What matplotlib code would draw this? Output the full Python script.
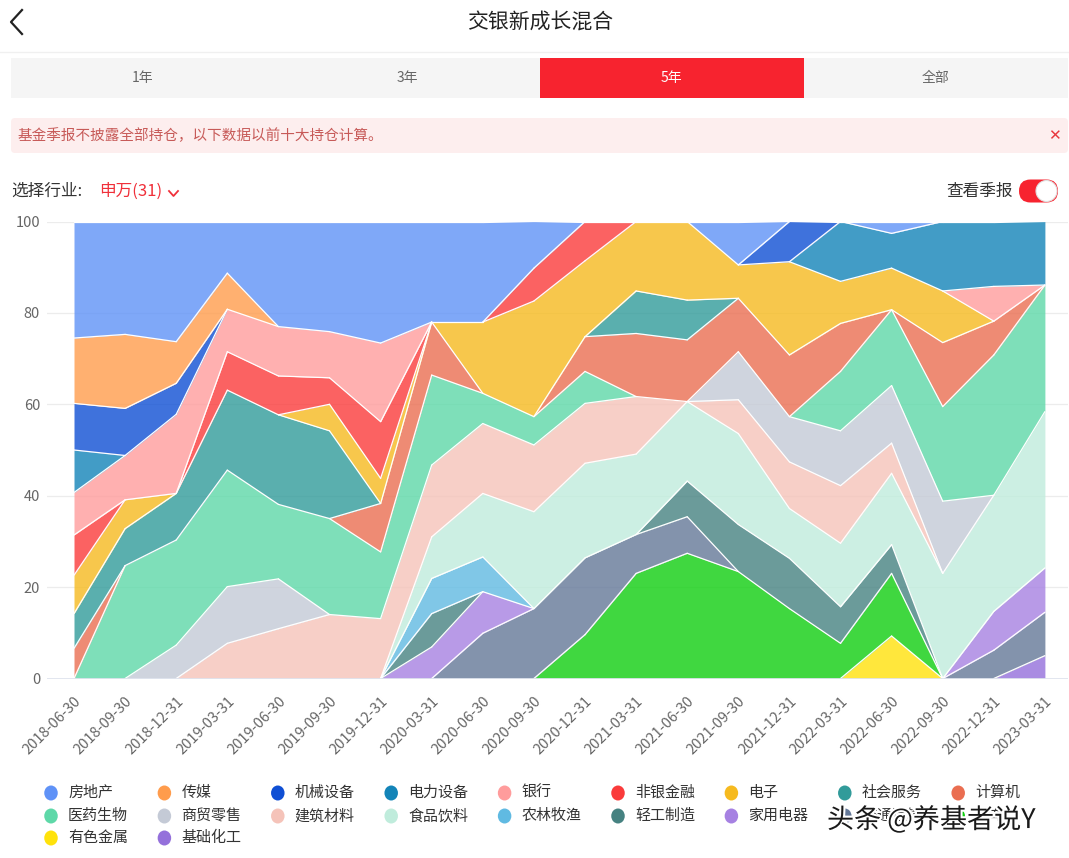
import matplotlib
matplotlib.use("Agg")
import matplotlib.pyplot as plt
from matplotlib.patches import FancyBboxPatch, Ellipse, Circle, Rectangle
from matplotlib.lines import Line2D
import matplotlib.patheffects as pe
import numpy as np

plt.rcParams['font.family'] = ['Noto Sans CJK SC', 'DejaVu Sans']

# ---------------- data ----------------
dates = ["2018-06-30", "2018-09-30", "2018-12-31", "2019-03-31", "2019-06-30",
         "2019-09-30", "2019-12-31", "2020-03-31", "2020-06-30", "2020-09-30",
         "2020-12-31", "2021-03-31", "2021-06-30", "2021-09-30", "2021-12-31",
         "2022-03-31", "2022-06-30", "2022-09-30", "2022-12-31", "2023-03-31"]

fangdichan = [25.5, 24.7, 26.3, 11.3, 23.0, 24.1, 26.6, 22.0, 22.0, 10.2, 0, 0, 0, 9.5, 0, 0, 2.6, 0, 0, 0]
chuanmei   = [14.3, 16.2, 9.1, 7.9, 0, 0, 0, 0, 0, 0, 0, 0, 0, 0, 0, 0, 0, 0, 0, 0]
jixie      = [10.2, 10.3, 6.8, 0, 0, 0, 0, 0, 0, 0, 0, 0, 0, 0, 8.8, 0, 0, 0, 0, 0]
dianli     = [9.3, 0, 0, 0, 0, 0, 0, 0, 0, 0, 0, 0, 0, 0, 0, 13.1, 7.6, 15.2, 14.2, 13.9]
yinhang    = [9.3, 9.7, 17.3, 9.3, 10.8, 10.1, 17.2, 0, 0, 0, 0, 0, 0, 0, 0, 0, 0, 0, 7.6, 0]
feiyin     = [8.8, 0, 0, 8.4, 8.5, 5.8, 12.4, 0, 0, 7.2, 8.6, 0, 0, 0, 0, 0, 0, 0, 0, 0]
dianzi     = [8.4, 6.3, 0, 0, 0, 5.8, 5.5, 0, 15.6, 25.3, 16.6, 15.2, 17.2, 7.3, 20.4, 9.2, 9.1, 11.3, 0, 0]
shehui     = [7.6, 8.1, 10.2, 17.5, 19.6, 19.2, 0, 0, 0, 0, 0, 9.3, 8.7, 0, 0, 0, 0, 0, 0, 0]
jisuanji   = [6.6, 0, 0, 0, 0, 0, 10.6, 11.6, 0, 0, 7.6, 13.8, 13.5, 11.7, 13.5, 10.5, 0, 14.0, 7.4, 0]
yiyao      = [0, 24.7, 23.0, 25.5, 16.3, 21.0, 14.6, 19.7, 6.6, 6.2, 7.0, 0, 0, 0, 0, 13.0, 16.6, 20.7, 30.7, 27.7]
shangmao   = [0, 0, 7.3, 12.4, 10.9, 0, 0, 0, 0, 0, 0, 0, 0, 10.5, 9.9, 12.0, 12.6, 15.8, 0, 0]
jiancai    = [0, 0, 0, 7.7, 10.9, 14.0, 13.1, 15.7, 15.3, 14.6, 13.1, 12.6, 0, 7.4, 10.2, 12.6, 6.6, 0, 0, 0]
shipin     = [0, 0, 0, 0, 0, 0, 0, 9.1, 13.9, 21.2, 20.7, 17.6, 17.4, 19.9, 10.9, 13.9, 15.6, 23.0, 25.4, 34.2]
nonglin    = [0, 0, 0, 0, 0, 0, 0, 7.7, 7.6, 0, 0, 0, 0, 0, 0, 0, 0, 0, 0, 0]
qinggong   = [0, 0, 0, 0, 0, 0, 0, 7.3, 0, 0, 0, 0, 7.8, 10.3, 11.0, 8.0, 6.3, 0, 0, 0]
jiadian    = [0, 0, 0, 0, 0, 0, 0, 6.9, 9.1, 0, 0, 0, 0, 0, 0, 0, 0, 0, 8.5, 9.7]
jiaotong   = [0, 0, 0, 0, 0, 0, 0, 0, 9.9, 15.3, 16.8, 8.5, 8.0, 0, 0, 0, 0, 0, 6.2, 9.5]
qiche      = [0, 0, 0, 0, 0, 0, 0, 0, 0, 0, 9.6, 23.0, 27.4, 23.4, 15.3, 7.7, 13.7, 0, 0, 0]
youse      = [0, 0, 0, 0, 0, 0, 0, 0, 0, 0, 0, 0, 0, 0, 0, 0, 9.3, 0, 0, 0]
jichu      = [0, 0, 0, 0, 0, 0, 0, 0, 0, 0, 0, 0, 0, 0, 0, 0, 0, 0, 0, 5.0]

names = ["房地产", "传媒", "机械设备", "电力设备", "银行", "非银金融", "电子", "社会服务", "计算机",
         "医药生物", "商贸零售", "建筑材料", "食品饮料", "农林牧渔", "轻工制造", "家用电器", "交通运输", "汽车",
         "有色金属", "基础化工"]
values = [fangdichan, chuanmei, jixie, dianli, yinhang, feiyin, dianzi, shehui, jisuanji,
          yiyao, shangmao, jiancai, shipin, nonglin, qinggong, jiadian, jiaotong, qiche,
          youse, jichu]
colors = ["#5f92f7", "#ff9c4c", "#0f4fd4", "#1384b8", "#ff9c9c", "#fa3b3b", "#f6ba1f", "#319b9a", "#ea6e51",
          "#5ed8a8", "#c4cad6", "#f5c3b9", "#c0ecdc", "#60bae2", "#468281", "#a681e2", "#647898", "#10ce10",
          "#ffe20b", "#9470db"]

W, H = 1069, 858
fig = plt.figure(figsize=(W / 100, H / 100), dpi=100)
fig.patch.set_facecolor("white")

# ---------------- chart ----------------
ax_l, ax_r, ax_t, ax_b = 47, 1068, 221.5, 678.5
ax = fig.add_axes([ax_l / W, 1 - ax_b / H, (ax_r - ax_l) / W, (ax_b - ax_t) / H])
x = np.arange(len(dates))
base = np.zeros(len(dates))
for name, vals, col in reversed(list(zip(names, values, colors))):
    v = np.array(vals, dtype=float)
    top = base + v
    ax.fill_between(x, base, top, color=col, alpha=0.8, linewidth=0, zorder=2)
    for i in range(len(x) - 1):
        if v[i] > 0 or v[i + 1] > 0:
            ax.plot(x[i:i + 2], top[i:i + 2], color="white", lw=0.9, zorder=3,
                    solid_capstyle="round")
    base = top

ax.set_xlim(-27 / 51.1, (ax_r - 74) / 51.1)
ax.set_ylim(0, 100)
ax.set_yticks([0, 20, 40, 60, 80, 100])
ax.set_yticklabels(["0", "20", "40", "60", "80", "100"])
ax.set_xticks(x)
ax.set_xticklabels(dates, rotation=45, ha="right", va="top", rotation_mode="anchor")
ax.tick_params(axis="both", length=0, colors="#666666")
ax.tick_params(axis="y", pad=5, labelsize=10.5)
ax.tick_params(axis="x", pad=11, labelsize=10.5)
for s in ax.spines.values():
    s.set_visible(False)
for gy in [20, 40, 60, 80, 100]:
    ax.axhline(gy, color="#ececec", lw=0.9, zorder=0)
ax.axhline(0, color="#dfe4ee", lw=1.3, zorder=4)
ax.set_facecolor("none")

# ---------------- overlay (page UI) ----------------
ov = fig.add_axes([0, 0, 1, 1])
ov.set_xlim(0, W)
ov.set_ylim(H, 0)
ov.axis("off")
ov.set_facecolor("none")

# back chevron
ov.add_line(Line2D([22, 11, 22], [10, 22, 34], color="#222222", lw=1.6))
ov.text(540, 22.5, "交银新成长混合", ha="center", va="center", fontsize=15, color="#222222")
ov.add_line(Line2D([0, W], [52, 52], color="#f0f0f0", lw=1))

# tabs
ov.add_patch(Rectangle((11, 58), 1057, 40, facecolor="#f5f5f5", edgecolor="none"))
ov.add_patch(Rectangle((540, 58), 264, 40, facecolor="#f7232f", edgecolor="none"))
for tx, lab, c in [(143, "1年", "#666666"), (407, "3年", "#666666"), (671, "5年", "white"), (936, "全部", "#666666")]:
    ov.text(tx, 78, lab, ha="center", va="center", fontsize=10, color=c)

# notice
ov.add_patch(FancyBboxPatch((11, 118), 1057, 35, boxstyle="round,pad=0,rounding_size=4",
                            facecolor="#fdeeee", edgecolor="none"))
ov.text(18, 135.5, "基金季报不披露全部持仓，以下数据以前十大持仓计算。", ha="left", va="center",
        fontsize=10.5, color="#c75a58")
ov.text(1054, 135.5, "✕", ha="center", va="center", fontsize=11, color="#e8363c",
        family=["DejaVu Sans"])

# industry selector
ov.text(11, 191, "选择行业:", ha="left", va="center", fontsize=12, color="#333333")
ov.text(99, 191, "申万(31)", ha="left", va="center", fontsize=12, color="#f0303a")
ov.add_line(Line2D([169, 173.5, 178], [191, 196, 191], color="#f0303a", lw=1.3))
ov.text(1013, 191, "查看季报", ha="right", va="center", fontsize=12, color="#333333")
ov.add_patch(FancyBboxPatch((1019, 179.5), 39, 23, boxstyle="round,pad=0,rounding_size=11.5",
                            facecolor="#f7232f", edgecolor="none"))
ov.add_patch(Circle((1046.5, 191), 10.5, facecolor="white", edgecolor="#e0e0e0", lw=0.8))

# legend
col_x = [51 + 113.4 * i for i in range(9)]
row_y = [793, 816, 838]
for i, (name, col) in enumerate(zip(names, colors)):
    r, c = divmod(i, 9)
    mx, my = col_x[c], row_y[r]
    ov.add_patch(Ellipse((mx, my), 13.5, 15, facecolor=col, edgecolor="none"))
    ov.text(mx + 17, my, name, ha="left", va="center", fontsize=10.8, color="#333333")

# watermark
ov.text(827, 820, "头条 @养基者说Y", ha="left", va="center", fontsize=19.5, color="#1a1a1a",
        path_effects=[pe.withStroke(linewidth=3, foreground="white")])

fig.savefig("out.png", dpi=100, facecolor="white")
